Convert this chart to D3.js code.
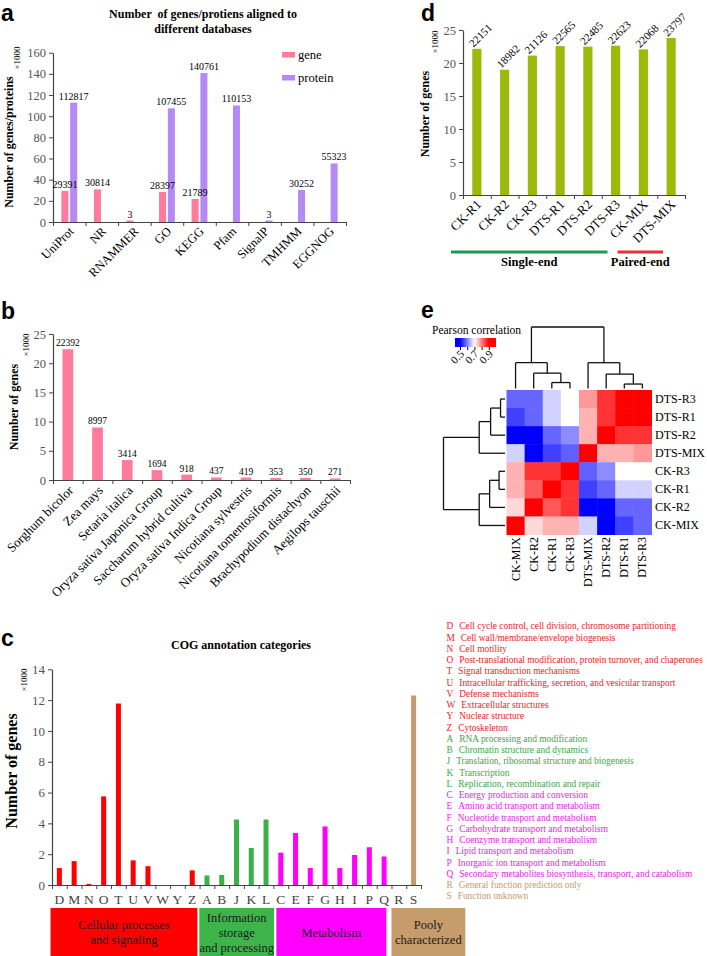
<!DOCTYPE html>
<html><head><meta charset="utf-8">
<script src="https://cdn.jsdelivr.net/npm/d3@7"></script>
<style>body{margin:0;background:#fff}svg{display:block}</style>
</head><body><svg id="c" width="707" height="956"></svg>
<script>
// ---------- Panel a data ----------
const dbCategories = ["UniProt","NR","RNAMMER","GO","KEGG","Pfam","SignalP","TMHMM","EGGNOG"];
const dbGene = [29391,30814,3,28397,21789,null,null,null,null];
const dbProtein = [112817,null,null,107455,140761,110153,3,30252,55323];
const dbTicks = [0,20000,40000,60000,80000,100000,120000,140000,160000];
const dbSeries = ["gene","protein"];
// ---------- Panel b data ----------
const species = ["Sorghum bicolor","Zea mays","Setaria italica","Oryza sativa Japonica Group","Saccharum hybrid cultiva","Oryza sativa Indica Group","Nicotiana sylvestris","Nicotiana tomentosiformis","Brachypodium distachyon","Aegilops tauschii"];
const speciesGenes = [22392,8997,3414,1694,918,437,419,353,350,271];
const speciesTicks = [0,5000,10000,15000,20000,25000];
// ---------- Panel d data ----------
const samples = ["CK-R1","CK-R2","CK-R3","DTS-R1","DTS-R2","DTS-R3","CK-MIX","DTS-MIX"];
const sampleGenes = [22151,18982,21126,22565,22485,22623,22068,23797];
const sampleTicks = [0,5000,10000,15000,20000,25000];
const libGroups = [["Single-end","CK-R1","DTS-R3"],["Paired-end","CK-MIX","DTS-MIX"]];
// ---------- Panel e data ----------
const heatOrder = ["CK-MIX","CK-R2","CK-R1","CK-R3","DTS-MIX","DTS-R2","DTS-R1","DTS-R3"];
const corrMatrix = [
 [1.00,0.73,0.76,0.76,0.665,0.48,0.55,0.58],
 [0.73,1.00,0.83,0.86,0.48,0.47,0.58,0.58],
 [0.76,0.83,1.00,0.86,0.55,0.58,0.665,0.665],
 [0.76,0.86,0.86,1.00,0.575,0.61,0.70,0.70],
 [0.665,0.48,0.55,0.575,1.00,0.76,0.76,0.78],
 [0.48,0.47,0.58,0.61,0.76,1.00,0.86,0.86],
 [0.55,0.58,0.665,0.70,0.76,0.86,1.00,0.93],
 [0.58,0.58,0.665,0.70,0.78,0.86,0.93,1.00]];
const colorTicks = [0.5,0.6,0.7,0.8,0.9];
const colorTickLabels = [0.5,0.7,0.9];
const clusterTree = {h:0.62, c:[
  {h:0.26, c:["CK-MIX",{h:0.155,c:["CK-R2",{h:0.06,c:["CK-R1","CK-R3"]}]}]},
  {h:0.26, c:["DTS-MIX",{h:0.145,c:["DTS-R2",{h:0.045,c:["DTS-R1","DTS-R3"]}]}]}]};
// ---------- Panel c data ----------
const cogLetters = ["D","M","N","O","T","U","V","W","Y","Z","A","B","J","K","L","C","E","F","G","H","I","P","Q","R","S"];
const cogCounts = [1100,1550,70,5750,11780,1600,1220,0,0,950,620,650,4250,2400,4250,2100,3380,1100,3800,1100,1950,2450,1850,0,12300];
const cogGroupOf = ["cell","cell","cell","cell","cell","cell","cell","cell","cell","cell","info","info","info","info","info","met","met","met","met","met","met","met","met","poor","poor"];
const cogTicks = [0,2000,4000,6000,8000,10000,12000,14000];
const cogDescriptions = ["Cell cycle control, cell division, chromosome partitioning","Cell wall/membrane/envelope biogenesis","Cell motility","Post-translational modification, protein turnover, and chaperones","Signal transduction mechanisms","Intracellular trafficking, secretion, and vesicular transport","Defense mechanisms","Extracellular structures","Nuclear structure","Cytoskeleton","RNA processing and modification","Chromatin structure and dynamics","Translation, ribosomal structure and biogenesis","Transcription","Replication, recombination and repair","Energy production and conversion","Amino acid transport and metabolism","Nucleotide transport and metabolism","Carbohydrate transport and metabolism","Coenzyme transport and metabolism","Lipid transport and metabolism","Inorganic ion transport and metabolism","Secondary metabolites biosynthesis, transport, and catabolism","General function prediction only","Function unknown"];
const cogGroupNames = ["cell","info","met","poor"];
const cogGroupLabels = [["Cellular processes","and signaling"],["Information","storage","and processing"],["Metabolism"],["Pooly","characterized"]];

// ---------- styles ----------
const SERIF = '"Liberation Serif","Times New Roman",serif';
const SANS = '"Liberation Sans",Arial,sans-serif';
const C = {gene:"#ff7b9c", protein:"#b68af4", olive:"#9bba0a", axis:"#444", tick:"#555"};
const groupColor = {cell:"#ff0000", info:"#3cb14a", met:"#ff00ff", poor:"#c49a6c"};
const legendColor = {cell:"#ee1c25", info:"#3aa848", met:"#ee22ee", poor:"#c49a6c"};
const boxColor = {cell:"#ff0000", info:"#3db54a", met:"#ff00ff", poor:"#c69c6d"};
const boxUnits = {cell:[-0.1,9.85], info:[9.98,15.05], met:[15.2,22.65], poor:[23,28]};

const svg = d3.select("#c");
svg.append("rect").attr("width",707).attr("height",956).attr("fill","#fff");

function txt(g, s, x, y, o) {
  o = o || {};
  const t = g.append("text").attr("x",x).attr("y",y).text(s)
    .style("font-family", o.family || SERIF).style("font-size", (o.size||12)+"px")
    .attr("fill", o.fill || "#000").attr("text-anchor", o.anchor || "start");
  if (o.bold) t.style("font-weight","bold");
  if (o.rot !== undefined) t.attr("x",0).attr("y",0).attr("transform",`translate(${x},${y}) rotate(${o.rot})`);
  if (o.dy) t.attr("dy", o.dy);
  return t;
}
function letter(s,x,y){ txt(svg,s,x,y,{family:SANS,bold:true,size:23}); }

function yAxis(y, x, ticks, fs) {
  const g = svg.append("g").attr("transform",`translate(${x},0)`)
    .call(d3.axisLeft(y).tickValues(ticks).tickFormat(d=>d/1000).tickSize(4).tickSizeOuter(0).tickPadding(3));
  g.select(".domain").attr("stroke",C.axis).attr("stroke-width",1.2);
  g.selectAll(".tick line").attr("stroke",C.axis);
  g.selectAll(".tick text").attr("fill",C.tick).style("font-family",SERIF).style("font-size",fs+"px");
  return g;
}
function xBoundaryAxis(xband, y) {
  const n = xband.domain().length;
  const r = xband.range();
  const lin = d3.scaleLinear().domain([0,n]).range(r);
  const g = svg.append("g").attr("transform",`translate(0,${y})`)
    .call(d3.axisBottom(lin).tickValues(d3.range(n+1)).tickFormat("").tickSize(4).tickSizeOuter(0));
  g.select(".domain").attr("stroke",C.axis).attr("stroke-width",1.2);
  g.selectAll(".tick line").attr("stroke",C.axis);
  return g;
}

// ================= Panel a =================
letter("a",1,21);
txt(svg,"Number  of genes/protiens aligned to",203,18,{bold:true,size:12,anchor:"middle"}).style("white-space","pre");
txt(svg,"different databases",203,32.5,{bold:true,size:12,anchor:"middle"});
{
  const xA = d3.scaleBand().domain(dbCategories).range([53,346]);
  const sub = d3.scaleBand().domain(dbSeries).range([0,xA.bandwidth()]).paddingInner(0.2).paddingOuter(0.95);
  const yA = d3.scaleLinear().domain([0,160000]).range([222,52.7]);
  yAxis(yA,53,dbTicks,12.5);
  const gBars = svg.append("g"), gLab = svg.append("g");
  [[dbSeries[0],dbGene],[dbSeries[1],dbProtein]].forEach(([s,vals])=>{
    dbCategories.forEach((c,i)=>{
      const v = vals[i]; if (v==null) return;
      const x = xA(c)+sub(s), w = sub.bandwidth();
      const h = Math.max(1.5, yA(0)-yA(v));
      gBars.append("rect").attr("x",x).attr("y",yA(0)-h).attr("width",w).attr("height",h).attr("fill",C[s]);
      txt(gLab,d3.format("d")(v),x+w/2,yA(0)-h-3,{size:10,anchor:"middle"});
    });
  });
  xBoundaryAxis(xA,222);
  dbCategories.forEach(c=>{
    txt(svg,c,xA(c)+xA.bandwidth()/2+2,229,{size:12.5,anchor:"end",rot:-45,dy:"0.35em"});
  });
  txt(svg,"×1000",20,58,{size:9,anchor:"middle",rot:-90});
  txt(svg,"Number of genes/proteins",13,142,{size:12,bold:true,anchor:"middle",rot:-90});
  // legend
  dbSeries.forEach((s,i)=>{
    svg.append("rect").attr("x",282).attr("y",52+i*23).attr("width",13).attr("height",5.5).attr("fill",C[s]);
    txt(svg,s,298,58.5+i*23,{size:12.5});
  });
}

// ================= Panel d =================
letter("d",421,21);
{
  const xD = d3.scaleBand().domain(samples).range([463,685]);
  const yD = d3.scaleLinear().domain([0,25000]).range([195,30]);
  yAxis(yD,463,sampleTicks,12.5);
  const g = svg.append("g");
  const bw = xD.bandwidth()*0.33;
  samples.forEach((s,i)=>{
    const cx = xD(s)+xD.bandwidth()/2, v = sampleGenes[i];
    g.append("rect").attr("x",cx-bw/2).attr("y",yD(v)).attr("width",bw).attr("height",yD(0)-yD(v)).attr("fill",C.olive);
    txt(g,String(v),cx-3.5,yD(v)-1,{size:11,rot:-45});
  });
  xBoundaryAxis(xD,195);
  samples.forEach(s=>{
    txt(svg,s,xD(s)+xD.bandwidth()/2+2,202,{size:13,anchor:"end",rot:-45,dy:"0.35em"});
  });
  txt(svg,"×1000",438,42,{size:9,anchor:"middle",rot:-90});
  txt(svg,"Number of genes",429,114,{size:12,bold:true,anchor:"middle",rot:-90});
  const lc = ["#1f9a50","#e8303a"];
  libGroups.forEach(([name,a,b],i)=>{
    const x0 = xD(a)-12, x1 = xD(b)+xD.bandwidth()-22;
    svg.append("line").attr("x1",x0).attr("x2",x1).attr("y1",252).attr("y2",252).attr("stroke",lc[i]).attr("stroke-width",3);
    txt(svg,name,(x0+x1)/2,266,{size:12.5,bold:true,anchor:"middle"});
  });
}

// ================= Panel b =================
letter("b",1,319);
{
  const xB = d3.scaleBand().domain(species).range([53,350]);
  const yB = d3.scaleLinear().domain([0,25000]).range([480,334]);
  yAxis(yB,53,speciesTicks,12.5);
  const g = svg.append("g");
  const bw = xB.bandwidth()*0.36;
  species.forEach((s,i)=>{
    const cx = xB(s)+xB.bandwidth()/2, v = speciesGenes[i];
    g.append("rect").attr("x",cx-bw/2).attr("y",yB(v)).attr("width",bw).attr("height",yB(0)-yB(v)).attr("fill",C.gene);
    txt(g,String(v),cx,yB(v)-3,{size:9.5,anchor:"middle"});
  });
  xBoundaryAxis(xB,480);
  species.forEach(s=>{
    txt(svg,s,xB(s)+xB.bandwidth()/2+3,488,{size:13,anchor:"end",rot:-45,dy:"0.35em"});
  });
  txt(svg,"×1000",29,345,{size:9,anchor:"middle",rot:-90});
  txt(svg,"Number of genes",18,407,{size:12,bold:true,anchor:"middle",rot:-90});
}

// ================= Panel e =================
letter("e",421,318);
{
  const xE = d3.scaleBand().domain(heatOrder).range([506.5,651.5]);
  const rowOrder = heatOrder.slice().reverse();
  const yE = d3.scaleBand().domain(rowOrder).range([390,534.5]);
  const col = d3.scaleLinear().domain([0.5,0.7,0.9]).range(["#0000ff","#ffffff","#ff0000"]).clamp(true);
  const g = svg.append("g");
  rowOrder.forEach(r=>{
    const ri = heatOrder.indexOf(r);
    heatOrder.forEach((c,ci)=>{
      g.append("rect").attr("x",xE(c)).attr("y",yE(r)).attr("width",xE.bandwidth()+0.5).attr("height",yE.bandwidth()+0.5)
        .attr("fill",col(corrMatrix[ri][ci]));
    });
    txt(svg,r,655,yE(r)+yE.bandwidth()/2+4,{size:12});
  });
  heatOrder.forEach(c=>{
    txt(svg,c,xE(c)+xE.bandwidth()/2+4,537,{size:12,anchor:"end",rot:-90});
  });
  // dendrograms
  const hS = d3.scaleLinear().domain([0,0.62]).range([0,61.5]);
  const dg = svg.append("g").attr("stroke","#111").attr("stroke-width",1.3).attr("fill","none");
  function drawTree(node, posOf, lineFn) {
    if (typeof node === "string") return {p:posOf(node), h:0};
    const kids = node.c.map(k=>drawTree(k,posOf,lineFn));
    kids.forEach(k=>lineFn(k.p,hS(k.h),k.p,hS(node.h)));
    lineFn(kids[0].p,hS(node.h),kids[1].p,hS(node.h));
    return {p:(kids[0].p+kids[1].p)/2, h:node.h};
  }
  const colBase = 388.5, rowBase = 505;
  drawTree(clusterTree, n=>xE(n)+xE.bandwidth()/2, (p1,h1,p2,h2)=>{
    dg.append("line").attr("x1",p1).attr("x2",p2).attr("y1",colBase-h1).attr("y2",colBase-h2);
  });
  drawTree(clusterTree, n=>yE(n)+yE.bandwidth()/2, (p1,h1,p2,h2)=>{
    dg.append("line").attr("y1",p1).attr("y2",p2).attr("x1",rowBase-h1).attr("x2",rowBase-h2);
  });
  // color key
  txt(svg,"Pearson correlation",432,334,{size:11.5});
  const kS = d3.scaleLinear().domain([0.43,1.0]).range([455,496]);
  const grad = svg.append("defs").append("linearGradient").attr("id","kg");
  d3.range(0,1.0001,0.05).forEach(t=>{
    const v = 0.43+t*0.57;
    grad.append("stop").attr("offset",t).attr("stop-color",col(v));
  });
  svg.append("rect").attr("x",455).attr("y",338).attr("width",41).attr("height",9).attr("fill","url(#kg)");
  const kg = svg.append("g").attr("transform","translate(0,347)")
    .call(d3.axisBottom(kS).tickValues(colorTicks).tickFormat("").tickSize(3).tickSizeOuter(0));
  kg.select(".domain").remove();
  kg.selectAll(".tick line").attr("stroke","#000");
  colorTickLabels.forEach(v=>{
    txt(svg,String(v),kS(v)+2,352,{size:11,anchor:"end",rot:-45,dy:"0.35em"});
  });
}

// ================= Panel c =================
letter("c",1,646);
txt(svg,"COG annotation categories",241,649,{bold:true,size:12,anchor:"middle"});
{
  const xC = d3.scaleBand().domain(cogLetters).range([52,421]);
  const yC = d3.scaleLinear().domain([0,14000]).range([885,669.3]);
  yAxis(yC,52,cogTicks,13);
  const g = svg.append("g");
  const bw = 5;
  cogLetters.forEach((l,i)=>{
    const cx = xC(l)+xC.bandwidth()/2, v = cogCounts[i];
    if (v<=0) return;
    g.append("rect").attr("x",cx-bw/2).attr("y",yC(v)).attr("width",bw).attr("height",Math.max(1,yC(0)-yC(v))).attr("fill",groupColor[cogGroupOf[i]]);
  });
  xBoundaryAxis(xC,885);
  cogLetters.forEach(l=>{
    txt(svg,l,xC(l)+xC.bandwidth()/2,904,{size:13.5,anchor:"middle",fill:"#444"});
  });
  txt(svg,"×1000",27,680,{size:9,anchor:"middle",rot:-90});
  txt(svg,"Number of genes",17,771,{size:16,bold:true,anchor:"middle",rot:-90});
  // group boxes
  const step = xC.step();
  cogGroupNames.forEach((gname,i)=>{
    const [u0,u1] = boxUnits[gname];
    const x0 = 52+u0*step, x1 = 52+u1*step;
    svg.append("rect").attr("x",x0).attr("y",908).attr("width",x1-x0).attr("height",48).attr("fill",boxColor[gname]);
    const lines = cogGroupLabels[i];
    lines.forEach((s,j)=>{
      txt(svg,s,(x0+x1)/2,932+4.5+(j-(lines.length-1)/2)*15,{size:12.5,anchor:"middle",fill:"#1a1a1a"});
    });
  });
  // legend
  cogLetters.forEach((l,i)=>{
    const t = svg.append("text").attr("x",446.5).attr("y",629.3+i*11.25)
      .style("font-family",SERIF).style("font-size","9.4px").attr("fill",legendColor[cogGroupOf[i]]);
    t.append("tspan").text(l);
    t.append("tspan").attr("dx",6).text(cogDescriptions[i]);
  });
}
</script></body></html>
